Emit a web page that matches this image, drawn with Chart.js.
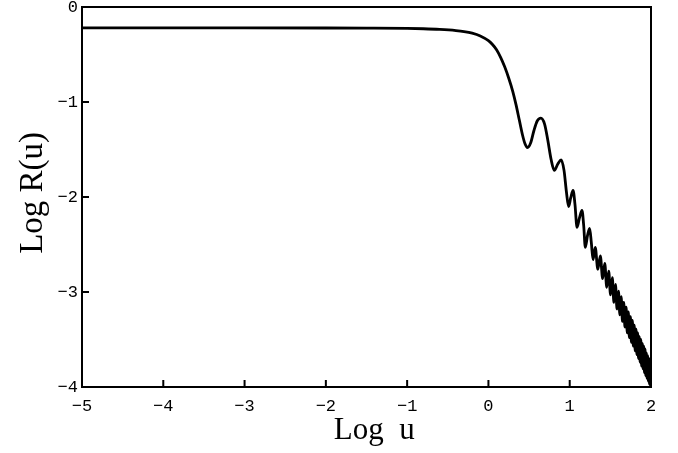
<!DOCTYPE html>
<html lang="en">
<head>
    <meta charset="UTF-8">
    <title>Log R(u) vs Log u</title>
    <script src="https://cdn.jsdelivr.net/npm/chart.js"></script>
    <style>
        html, body { margin: 0; padding: 0; background: #fff; }
        #wrap { width: 678px; height: 453px; }
    </style>
</head>
<body>
    <div id="wrap"><canvas id="rChart" width="678" height="453"></canvas></div>

    <script>
        // values (log10 u, log10 R)
        const logU = [
            -5, -3, -2, -1.5, -1, -0.8, -0.6, -0.4, -0.3, -0.2, -0.1, 0, 0.05, 0.1, 0.15, 0.2, 0.25, 0.3,
            0.34, 0.38, 0.42, 0.45, 0.48, 0.52, 0.56, 0.60, 0.645, 0.69, 0.73, 0.77, 0.81, 0.855, 0.895,
            0.93, 0.96, 0.986, 1.012, 1.041, 1.065, 1.090, 1.12, 1.151, 1.172, 1.192, 1.22, 1.245, 1.266,
            1.287, 1.314, 1.346, 1.377, 1.405, 1.431, 1.456, 1.480, 1.502, 1.524, 1.544, 1.563, 1.582,
            1.600, 1.617, 1.633, 1.649, 1.665, 1.679, 1.694, 1.708, 1.721, 1.734, 1.747, 1.759, 1.771,
            1.782, 1.794, 1.805, 1.816, 1.826, 1.836, 1.846, 1.856, 1.866, 1.875, 1.884, 1.893, 1.902,
            1.911, 1.919, 1.927, 1.935, 1.943, 1.951, 1.959, 1.967, 1.974, 1.981, 1.989, 1.996
        ];
        const logR = [
            -0.22, -0.22, -0.221, -0.222, -0.225, -0.229, -0.236, -0.248, -0.258, -0.275, -0.305, -0.355, -0.395, -0.45, -0.53, -0.63, -0.75, -0.89,
            -1.03, -1.19, -1.35, -1.44, -1.48, -1.43, -1.30, -1.20, -1.17, -1.23, -1.40, -1.60, -1.72, -1.65, -1.61,
            -1.72, -1.95, -2.10, -2.01, -1.93, -2.08, -2.32, -2.22, -2.14, -2.30, -2.53, -2.40, -2.33, -2.48,
            -2.66, -2.53, -2.76, -2.62, -2.86, -2.70, -2.95, -2.78, -3.03, -2.85, -3.11, -2.92, -3.18,
            -2.99, -3.24, -3.05, -3.31, -3.11, -3.37, -3.16, -3.43, -3.21, -3.48, -3.26, -3.53, -3.30,
            -3.57, -3.35, -3.62, -3.39, -3.66, -3.43, -3.70, -3.47, -3.74, -3.50, -3.78, -3.54, -3.81,
            -3.57, -3.85, -3.60, -3.88, -3.64, -3.91, -3.67, -3.94, -3.70, -3.97, -3.73, -4.0
        ];
        const xTicks = [-5, -4, -3, -2, -1, 0, 1, 2];
        const yTicks = [-4, -3, -2, -1, 0];

        const points = logU.map((u, i) => ({ x: u, y: logR[i] }));
        const minus = v => String(v).replace('-', '\u2212');

        // box round the plot and short ticks pointing inward
        const framePlugin = {
            id: 'frame',
            afterDatasetsDraw(chart) {
                const { ctx, chartArea: a, scales: { x, y } } = chart;
                ctx.save();
                ctx.strokeStyle = '#000';
                ctx.lineWidth = 2;
                ctx.strokeRect(a.left, a.top, a.width, a.height);
                ctx.beginPath();
                xTicks.slice(1, -1).forEach(v => {
                    const px = x.getPixelForValue(v);
                    ctx.moveTo(px, a.bottom);
                    ctx.lineTo(px, a.bottom - 7);
                });
                yTicks.slice(1, -1).forEach(v => {
                    const py = y.getPixelForValue(v);
                    ctx.moveTo(a.left, py);
                    ctx.lineTo(a.left + 7, py);
                });
                ctx.stroke();
                ctx.restore();
            }
        };

        const tickFont = { family: 'Liberation Mono', size: 17 };

        new Chart(document.getElementById('rChart'), {
            type: 'scatter',
            data: {
                datasets: [{
                    data: points,
                    showLine: true,
                    borderColor: '#000',
                    borderWidth: 2.8,
                    pointRadius: 0,
                    cubicInterpolationMode: 'monotone'
                }]
            },
            options: {
                responsive: false,
                animation: false,
                layout: { padding: { top: 7, right: 27, left: 0, bottom: 0 } },
                plugins: { legend: { display: false }, tooltip: { enabled: false } },
                scales: {
                    x: {
                        type: 'linear',
                        min: -5,
                        max: 2,
                        afterFit: s => { s.height = 66; s.paddingLeft = 0; s.paddingRight = 0; },
                        afterBuildTicks: s => { s.ticks = xTicks.map(v => ({ value: v })); },
                        grid: { display: false },
                        border: { display: false },
                        ticks: { color: '#000', font: tickFont, padding: 1, maxRotation: 0, callback: minus },
                        title: { display: true, text: '\u00a0\u00a0Log  u', color: '#000', font: { family: 'Liberation Serif', size: 31 }, padding: { top: 0, bottom: 4 } }
                    },
                    y: {
                        type: 'linear',
                        min: -4,
                        max: 0,
                        afterFit: s => { s.width = 82; s.paddingTop = 0; s.paddingBottom = 0; },
                        afterBuildTicks: s => { s.ticks = yTicks.map(v => ({ value: v })); },
                        grid: { display: false, tickLength: 4 },
                        border: { display: false },
                        ticks: { color: '#000', font: tickFont, padding: 0, callback: minus },
                        title: { display: true, text: '\u00a0Log R(u)', color: '#000', font: { family: 'Liberation Serif', size: 33 }, padding: { top: 14, bottom: 0 } }
                    }
                }
            },
            plugins: [framePlugin]
        });
    </script>
</body>
</html>
